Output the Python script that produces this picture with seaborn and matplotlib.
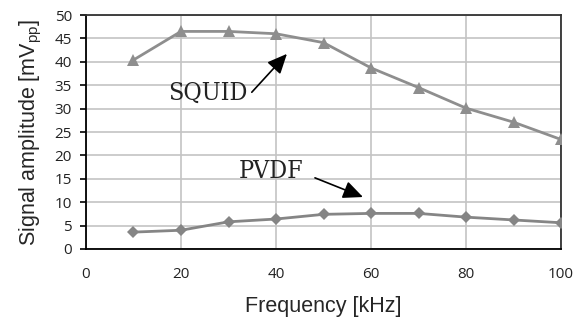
import matplotlib
matplotlib.use("Agg")
import matplotlib.pyplot as plt
import seaborn as sns
import pandas as pd

# Measured signal amplitude vs. excitation frequency
freq_khz = [10, 20, 30, 40, 50, 60, 70, 80, 90, 100]
squid_mv = [40.4, 46.5, 46.5, 46.0, 44.1, 38.7, 34.5, 30.1, 27.1, 23.4]
pvdf_mv = [3.6, 4.0, 5.8, 6.4, 7.4, 7.6, 7.6, 6.8, 6.2, 5.6]

x_ticks = [0, 20, 40, 60, 80, 100]
y_ticks = [0, 5, 10, 15, 20, 25, 30, 35, 40, 45, 50]

sns.set_style("white")
plt.rcParams["font.family"] = ["Open Sans", "DejaVu Sans"]

df = pd.DataFrame({"freq": freq_khz, "SQUID": squid_mv, "PVDF": pvdf_mv})

fig = plt.figure(figsize=(5.79, 3.20), dpi=100)
ax = fig.add_axes([0.1485, 0.222, 0.8205, 0.731])

sns.lineplot(data=df, x="freq", y="SQUID", ax=ax, color="#8e8e8e", lw=2,
             marker="^", markersize=8, markeredgewidth=0, zorder=3)
sns.lineplot(data=df, x="freq", y="PVDF", ax=ax, color="#858585", lw=2,
             marker="D", markersize=6, markeredgewidth=0, zorder=3)

ax.set_xlim(0, 100)
ax.set_ylim(0, 50)
ax.set_xticks(x_ticks)
ax.set_yticks(y_ticks)
ax.set_xticks([0, 100], minor=True)
ax.grid(True, color="#c4c4c4", lw=1.2, zorder=0)
ax.set_axisbelow(True)

ax.tick_params(axis="x", which="major", length=0, pad=13, labelsize=11, colors="#222222")
ax.tick_params(axis="x", which="minor", length=5, width=1.2, color="black", direction="out", bottom=True)
ax.tick_params(axis="y", which="major", length=4.5, width=1.2, color="black", direction="out",
               left=True, pad=5.5, labelsize=11, colors="black", labelcolor="#222222")

for side in ["left", "bottom"]:
    ax.spines[side].set_color("black")
    ax.spines[side].set_linewidth(1.3)
for side in ["top", "right"]:
    ax.spines[side].set_color("#333333")
    ax.spines[side].set_linewidth(1.3)

label_font = ["Liberation Sans", "DejaVu Sans"]
ax.set_xlabel("Frequency [kHz]", fontsize=15.5, family=label_font, labelpad=10)
ax.set_ylabel("Signal amplitude [mV$_{\\mathregular{pp}}$]", fontsize=15.5, family=label_font, labelpad=8)

serif = ["DejaVu Serif", "Liberation Serif"]
ax.text(25.7, 33.3, "SQUID", fontsize=18, family=serif, fontstretch="condensed",
        ha="center", va="center", color="#222222")
ax.text(39.0, 16.5, "PVDF", fontsize=18, family=serif, fontstretch="condensed",
        ha="center", va="center", color="#222222")

arrow = dict(arrowstyle="-|>,head_length=1.0,head_width=0.45", color="black", lw=1.2,
             shrinkA=0, shrinkB=0, mutation_scale=12)
ax.annotate("", xy=(42.3, 41.7), xytext=(34.9, 33.5), arrowprops=arrow)
ax.annotate("", xy=(58.3, 11.1), xytext=(48.2, 15.2), arrowprops=arrow)

fig.savefig("out.png", dpi=100)
